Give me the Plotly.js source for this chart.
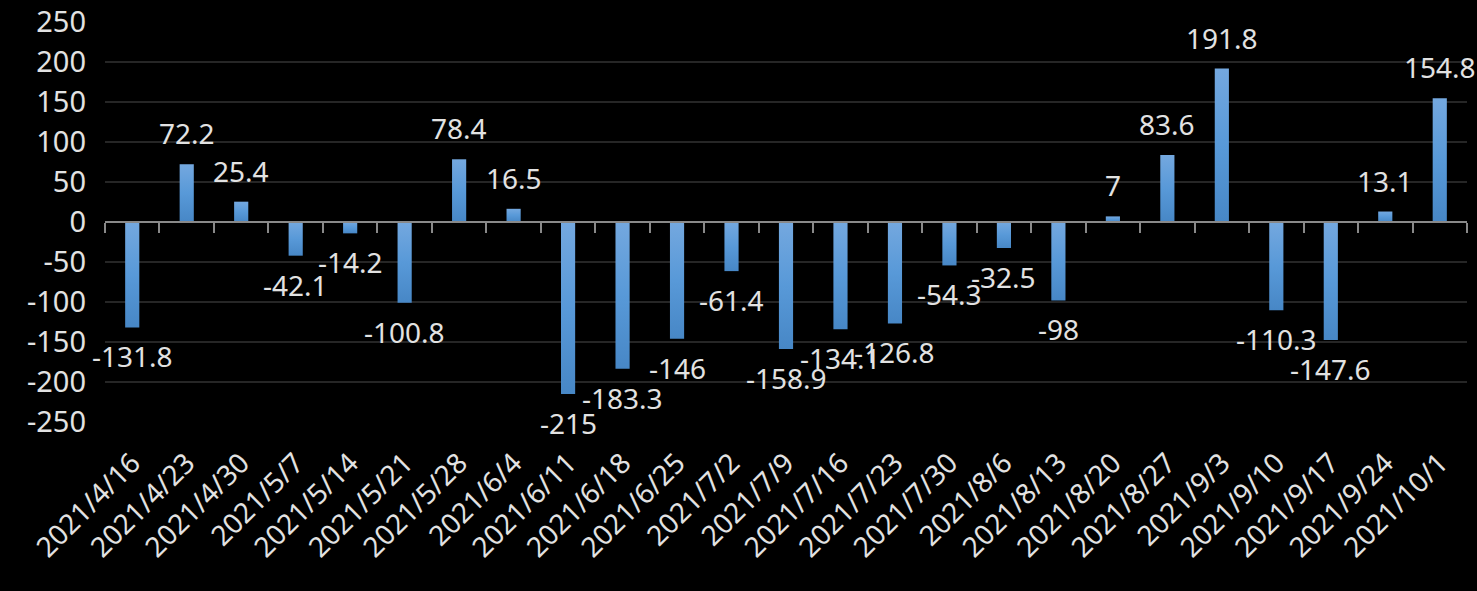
<!DOCTYPE html>
<html>
<head>
<meta charset="utf-8">
<script src="https://cdn.plot.ly/plotly-3.0.1.min.js"></script>
<style>
  html, body { margin: 0; padding: 0; background: #000; }
  #chart { width: 1477px; height: 591px; }
</style>
</head>
<body>
<div id="chart"></div>
<script>
const categories = [
  "2021/4/16", "2021/4/23", "2021/4/30", "2021/5/7", "2021/5/14", "2021/5/21", "2021/5/28",
  "2021/6/4", "2021/6/11", "2021/6/18", "2021/6/25", "2021/7/2", "2021/7/9", "2021/7/16",
  "2021/7/23", "2021/7/30", "2021/8/6", "2021/8/13", "2021/8/20", "2021/8/27", "2021/9/3",
  "2021/9/10", "2021/9/17", "2021/9/24", "2021/10/1"
];
const values = [
  -131.8, 72.2, 25.4, -42.1, -14.2, -100.8, 78.4,
  16.5, -215, -183.3, -146, -61.4, -158.9, -134.1,
  -126.8, -54.3, -32.5, -98, 7, 83.6, 191.8,
  -110.3, -147.6, 13.1, 154.8
];
const yTicks = [-250, -200, -150, -100, -50, 0, 50, 100, 150, 200, 250];

const FONT = '"Noto Sans", "Open Sans", sans-serif';
const TXT = '#e2e2e2';

const bars = {
  type: 'bar',
  x: categories,
  y: values,
  xaxis: 'x',
  yaxis: 'y',
  marker: { color: '#5b9bd5', line: { width: 0 } },
  hoverinfo: 'x+y',
  showlegend: false
};
// invisible companion trace that carries the zero-level axis with boundary ticks
const axisCarrier = {
  type: 'bar',
  x: categories,
  y: values.map(() => 0),
  xaxis: 'x2',
  yaxis: 'y',
  opacity: 0,
  hoverinfo: 'skip',
  showlegend: false
};

const annotations = values.map((v, i) => ({
  x: categories[i],
  y: v,
  xref: 'x',
  yref: 'y',
  text: String(v),
  showarrow: false,
  xanchor: 'center',
  yanchor: 'middle',
  yshift: v >= 0 ? 31 : -29,
  font: { family: FONT, size: 28, color: TXT }
}));

const layout = {
  width: 1477,
  height: 591,
  paper_bgcolor: '#000',
  plot_bgcolor: '#000',
  margin: { l: 105, r: 10, t: 22, b: 169 },
  bargap: 0.74,
  showlegend: false,
  xaxis: {
    type: 'category',
    categoryorder: 'array',
    categoryarray: categories,
    range: [-0.5, categories.length - 0.5],
    showgrid: false,
    showline: false,
    zeroline: false,
    ticks: '',
    tickangle: -45,
    ticklabelstandoff: 18,
    tickfont: { family: FONT, size: 28, color: TXT },
    fixedrange: true
  },
  xaxis2: {
    type: 'category',
    categoryorder: 'array',
    categoryarray: categories,
    range: [-0.5, categories.length - 0.5],
    overlaying: 'x',
    anchor: 'free',
    position: 0.5,
    side: 'bottom',
    showgrid: false,
    zeroline: false,
    showline: true,
    linecolor: '#898989',
    linewidth: 2,
    ticks: 'outside',
    tickson: 'boundaries',
    ticklen: 10,
    tickwidth: 2,
    tickcolor: '#898989',
    showticklabels: false,
    fixedrange: true
  },
  yaxis: {
    range: [-250, 250],
    tickmode: 'array',
    tickvals: yTicks,
    ticktext: yTicks.map(String),
    showgrid: true,
    gridcolor: '#262626',
    gridwidth: 2,
    zeroline: false,
    showline: false,
    ticks: '',
    ticklabelstandoff: 18,
    tickfont: { family: FONT, size: 29, color: TXT },
    fixedrange: true
  },
  annotations: annotations
};

const gd = document.getElementById('chart');

function applyGradient() {
  const svg = gd.querySelector('svg.main-svg');
  if (!svg) return;
  const NS = 'http://www.w3.org/2000/svg';
  let defs = svg.querySelector('defs');
  if (!defs) { defs = document.createElementNS(NS, 'defs'); svg.insertBefore(defs, svg.firstChild); }
  if (!svg.querySelector('#barGrad')) {
    const g = document.createElementNS(NS, 'linearGradient');
    g.setAttribute('id', 'barGrad');
    g.setAttribute('x1', '0'); g.setAttribute('y1', '0');
    g.setAttribute('x2', '0'); g.setAttribute('y2', '1');
    [['0%', '#74a8df'], ['50%', '#5899d8'], ['100%', '#4787c6']].forEach(([o, c]) => {
      const s = document.createElementNS(NS, 'stop');
      s.setAttribute('offset', o);
      s.setAttribute('stop-color', c);
      g.appendChild(s);
    });
    defs.appendChild(g);
  }
  gd.querySelectorAll('.barlayer .trace').forEach((t, idx) => {
    if (idx === 0) {
      t.querySelectorAll('.point path').forEach(p => { p.style.fill = 'url(#barGrad)'; });
    }
  });
}

Plotly.newPlot(gd, [bars, axisCarrier], layout, { staticPlot: true, displayModeBar: false })
  .then(applyGradient);
gd.on && gd.on('plotly_afterplot', applyGradient);
</script>
</body>
</html>
